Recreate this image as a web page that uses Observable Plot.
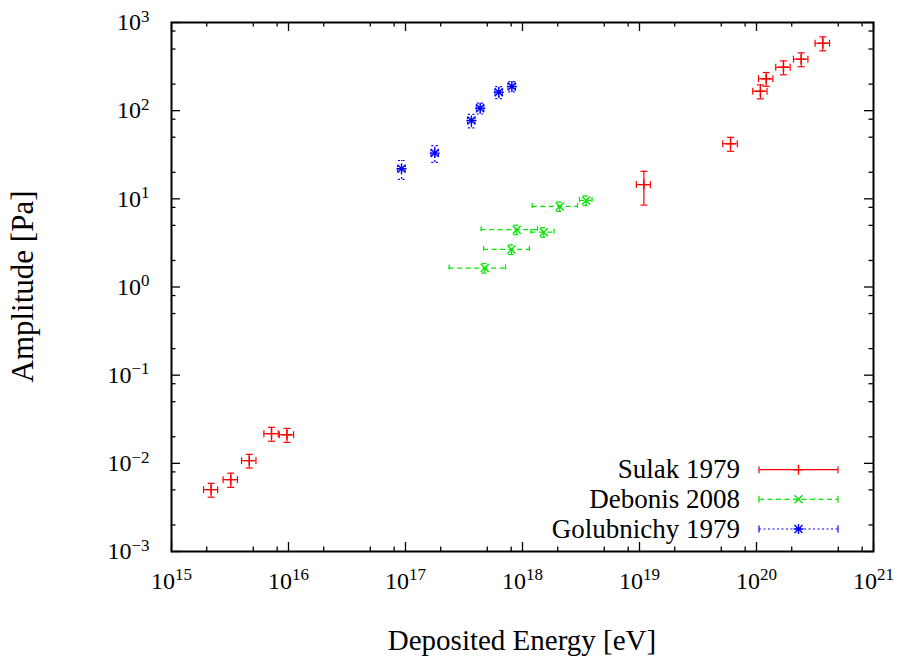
<!DOCTYPE html>
<html><head><meta charset="utf-8">
<script src="https://cdn.jsdelivr.net/npm/d3@7"></script>
<script src="https://cdn.jsdelivr.net/npm/@observablehq/plot@0.6"></script>
<style>
body{margin:0;background:#fff;}
#chart{position:relative;width:899px;height:662px;}
#chart svg, #chart svg text{font-family:"Liberation Serif","DejaVu Serif",serif !important;}
</style></head><body><div id="chart"></div>
<script>
// ---- data ----
const seriesNames = ["Sulak 1979", "Debonis 2008", "Golubnichy 1979"];
const sulakE    = [2.18e15, 3.21e15, 4.62e15, 7.16e15, 9.7e15, 1.09e19, 6.0e19, 1.08e20, 1.21e20, 1.70e20, 2.41e20, 3.69e20];
const sulakA    = [0.00503, 0.00653, 0.01074, 0.0217, 0.0211, 14.5, 42.2, 166, 230, 311, 384, 582];
const sulakEerr = [0.3e15, 0.45e15, 0.65e15, 1.0e15, 1.35e15, 1.5e18, 0.85e19, 1.5e19, 1.7e19, 2.4e19, 3.4e19, 5.2e19];
const sulakAerr = [0.0009, 0.0012, 0.0019, 0.0039, 0.0038, 6.0, 7.6, 30, 41, 56, 69, 105];

const debonisE    = [4.76e17, 8.05e17, 8.93e17, 1.52e18, 2.08e18, 3.50e18];
const debonisA    = [1.64, 2.67, 4.47, 4.19, 8.2, 9.6];
const debonisEerr = [2.4e17, 3.4e17, 4.5e17, 3.4e17, 8.7e17, 4.3e17];
const debonisAerr = [0.2, 0.33, 0.55, 0.52, 1.0, 1.2];

const golubE    = [9.25e16, 1.78e17, 3.66e17, 4.35e17, 6.27e17, 8.11e17];
const golubA    = [21.9, 33.0, 77.4, 106.7, 162, 188];
const golubEerr = [0.7e16, 1.3e16, 2.7e16, 3.2e16, 4.6e16, 6.0e16];
const golubAerr = [5.3, 7.1, 13.6, 15, 25, 25];

const xExponents = [15, 16, 17, 18, 19, 20, 21];
const yExponents = [-3, -2, -1, 0, 1, 2, 3];
const minorMultipliers = [2, 5, 8];

// ---- layout / style ----
const FONT = "'Liberation Serif', 'DejaVu Serif', serif";
const W = 899, H = 662;
const mL = 171, mR = 26, mT = 22, mB = 111;
const plotW = W - mL - mR, plotH = H - mT - mB;
const colors = ["#ff0000", "#00e600", "#0000ff"];
const dashes = [null, "5,3.5", "2,2.5"];

const rec = (E, A, dE, dA) => E.map((e, i) => ({E: e, A: A[i], dE: dE[i], dA: dA[i]}));
const series = [
  rec(sulakE, sulakA, sulakEerr, sulakAerr),
  rec(debonisE, debonisA, debonisEerr, debonisAerr),
  rec(golubE, golubA, golubEerr, golubAerr)
];

const rad = s => Math.sqrt(s / Math.PI);
const plusSym  = {draw(c, s){const r = rad(s); c.moveTo(-r,0); c.lineTo(r,0); c.moveTo(0,-r); c.lineTo(0,r);}};
const crossSym = {draw(c, s){const r = rad(s)*0.8; c.moveTo(-r,-r); c.lineTo(r,r); c.moveTo(-r,r); c.lineTo(r,-r);}};
const starSym  = {draw(c, s){plusSym.draw(c, s); crossSym.draw(c, s);}};
const hCap = {draw(c, s){const r = rad(s); c.moveTo(-r,0); c.lineTo(r,0);}};
const vCap = {draw(c, s){const r = rad(s); c.moveTo(0,-r); c.lineTo(0,r);}};
const markerSyms = [plusSym, crossSym, starSym];

const xMajor = xExponents.map(e => Math.pow(10, e));
const yMajor = yExponents.map(e => Math.pow(10, e));
const xMinor = xExponents.slice(0, -1).flatMap(e => minorMultipliers.map(m => m * Math.pow(10, e)));
const yMinor = yExponents.slice(0, -1).flatMap(e => minorMultipliers.map(m => m * Math.pow(10, e)));

const marks = [];
// ticks (inward, mirrored)
const tk = {stroke: "black", strokeWidth: 1.3};
marks.push(Plot.ruleX(xMajor, {...tk, insetTop: plotH - 9}));
marks.push(Plot.ruleX(xMajor, {...tk, insetBottom: plotH - 9}));
marks.push(Plot.ruleX(xMinor, {...tk, insetTop: plotH - 4.5}));
marks.push(Plot.ruleX(xMinor, {...tk, insetBottom: plotH - 4.5}));
marks.push(Plot.ruleY(yMajor, {...tk, insetRight: plotW - 9}));
marks.push(Plot.ruleY(yMajor, {...tk, insetLeft: plotW - 9}));
marks.push(Plot.ruleY(yMinor, {...tk, insetRight: plotW - 4.5}));
marks.push(Plot.ruleY(yMinor, {...tk, insetLeft: plotW - 4.5}));

series.forEach((data, k) => {
  const st = {stroke: colors[k], strokeWidth: 1.2, strokeDasharray: dashes[k]};
  marks.push(Plot.ruleX(data, {x: "E", y1: d => d.A - d.dA, y2: d => d.A + d.dA, ...st}));
  marks.push(Plot.ruleY(data, {y: "A", x1: d => d.E - d.dE, x2: d => d.E + d.dE, ...st}));
  const cap = {stroke: colors[k], strokeWidth: 1.2, fill: "none", r: 3.5, strokeDasharray: dashes[k]};
  marks.push(Plot.dot(data, {x: "E", y: d => d.A - d.dA, symbol: hCap, ...cap}));
  marks.push(Plot.dot(data, {x: "E", y: d => d.A + d.dA, symbol: hCap, ...cap}));
  marks.push(Plot.dot(data, {x: d => d.E - d.dE, y: "A", symbol: vCap, ...cap}));
  marks.push(Plot.dot(data, {x: d => d.E + d.dE, y: "A", symbol: vCap, ...cap}));
  marks.push(Plot.dot(data, {x: "E", y: "A", symbol: markerSyms[k], stroke: colors[k], strokeWidth: 1.4, fill: "none", r: 5}));
});

const fmt = d => "10^" + String(Math.round(Math.log10(d))).replace("-", "\u2212");
marks.push(Plot.axisX({ticks: xMajor, tickSize: 0, tickPadding: 20, tickFormat: fmt, fontSize: 24, fontFamily: FONT, label: null}));
marks.push(Plot.axisY({ticks: yMajor, tickSize: 0, tickPadding: 22, tickFormat: fmt, fontSize: 24, fontFamily: FONT, label: null}));
marks.push(Plot.frame({stroke: "black", strokeWidth: 2}));

const chart = Plot.plot({
  width: W, height: H,
  marginLeft: mL, marginRight: mR, marginTop: mT, marginBottom: mB,
  x: {type: "log", domain: [1e15, 1e21]},
  y: {type: "log", domain: [1e-3, 1e3]},
  style: {color: "black", background: "white"},
  marks
});
chart.setAttribute("font-family", FONT);
chart.style.fontFamily = FONT;
document.getElementById("chart").appendChild(chart);

// superscript exponents on tick labels
const NS = "http://www.w3.org/2000/svg";
chart.querySelectorAll('g[aria-label="x-axis tick label"] text, g[aria-label="y-axis tick label"] text').forEach(t => {
  const [b, e] = t.textContent.split("^");
  t.textContent = b;
  const ts = document.createElementNS(NS, "tspan");
  ts.setAttribute("dy", "-8.5");
  ts.setAttribute("font-size", "17");
  ts.textContent = e;
  t.appendChild(ts);
  t.setAttribute("fill", "black");
  t.setAttribute("font-family", FONT);
});

// axis titles
const svg = d3.select(chart);
svg.append("text").attr("x", mL + plotW / 2).attr("y", 650).attr("text-anchor", "middle")
  .attr("font-family", FONT).attr("font-size", 29).attr("fill", "black").text("Deposited Energy [eV]");
svg.append("text").attr("transform", `translate(33,${mT + plotH / 2}) rotate(-90)`).attr("text-anchor", "middle")
  .attr("font-family", FONT).attr("font-size", 31).attr("fill", "black").text("Amplitude [Pa]");

// legend
const lg = svg.append("g");
const rowY = [469.7, 499.3, 529];
const symPath = (sym, r) => { const p = d3.path(); sym.draw(p, Math.PI * r * r); return p.toString(); };
seriesNames.forEach((name, k) => {
  const y = rowY[k];
  lg.append("text").attr("x", 740).attr("y", y + 8.5).attr("text-anchor", "end")
    .attr("font-family", FONT).attr("font-size", 27).attr("fill", "black").text(name);
  lg.append("line").attr("x1", 759).attr("x2", 838).attr("y1", y).attr("y2", y)
    .attr("stroke", colors[k]).attr("stroke-width", 1.2).attr("stroke-dasharray", dashes[k]);
  [759, 838].forEach(x => lg.append("path").attr("transform", `translate(${x},${y})`)
    .attr("d", symPath(vCap, 3.5)).attr("stroke", colors[k]).attr("stroke-width", 1.2).attr("fill", "none"));
  lg.append("path").attr("transform", `translate(798.5,${y})`).attr("d", symPath(markerSyms[k], 5))
    .attr("stroke", colors[k]).attr("stroke-width", 1.4).attr("fill", "none");
});
</script></body></html>
